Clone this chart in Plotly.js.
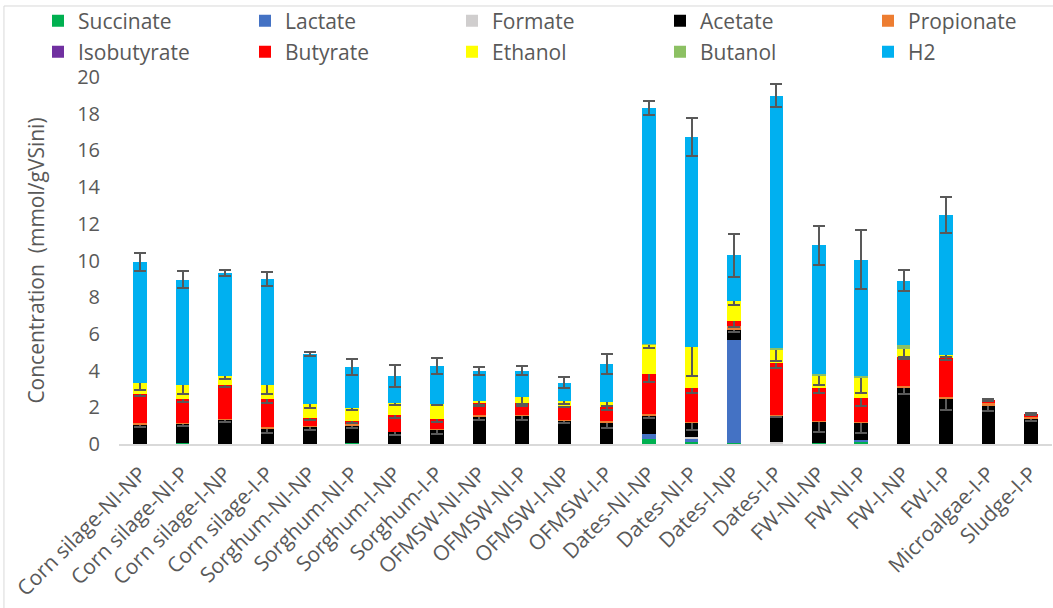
<!DOCTYPE html>
<html>
<head>
<meta charset="utf-8">
<script src="https://cdn.plot.ly/plotly-3.0.1.min.js"></script>
<style>
html,body{margin:0;padding:0;background:#fff;}
#chart{width:1053px;height:608px;}
</style>
</head>
<body>
<div id="chart"></div>
<script>
const categories = ["Corn silage-NI-NP","Corn silage-NI-P","Corn silage-I-NP","Corn silage-I-P",
  "Sorghum-NI-NP","Sorghum-NI-P","Sorghum-I-NP","Sorghum-I-P",
  "OFMSW-NI-NP","OFMSW-NI-P","OFMSW-I-NP","OFMSW-I-P",
  "Dates-NI-NP","Dates-NI-P","Dates-I-NP","Dates-I-P",
  "FW-NI-NP","FW-NI-P","FW-I-NP","FW-I-P","Microalgae-I-P","Sludge-I-P"];

const succinate   = [0,0.03,0,0, 0,0.07,0,0, 0,0,0,0, 0.26,0.10,0.03,0, 0.07,0.13,0,0, 0,0];
const lactate     = [0,0,0,0, 0,0,0,0, 0,0,0,0, 0.27,0.16,5.65,0, 0,0.09,0,0, 0,0];
const formate     = [0,0,0,0, 0,0,0,0, 0,0,0,0, 0,0.14,0,0.13, 0,0,0,0, 0,0];
const acetate     = [1.04,1.08,1.32,0.82, 0.93,0.91,0.64,0.77, 1.49,1.53,1.26,1.17, 1.00,0.77,0.55,1.40, 1.15,0.95,3.04,2.44, 2.05,1.35];
const propionate  = [0.13,0.06,0.05,0.09, 0.05,0.12,0.03,0.05, 0.09,0.05,0.03,0.09, 0.09,0.05,0.18,0.05, 0.05,0.05,0.13,0.11, 0.18,0.11];
const isobutyrate = [0,0,0,0, 0,0,0,0, 0,0,0,0, 0,0,0,0, 0,0,0,0, 0,0];
const butyrate    = [1.56,1.27,1.85,1.55, 0.42,0.17,0.91,0.55, 0.64,0.64,0.80,0.73, 2.21,1.85,0.27,2.86, 1.77,1.31,1.57,2.13, 0.17,0.16];
const ethanol     = [0.59,0.75,0.51,0.73, 0.79,0.69,0.64,0.82, 0.13,0.33,0.28,0.31, 1.56,2.24,1.13,0.66, 0.64,1.06,0.43,0.15, 0,0];
const butanol     = [0,0,0,0, 0,0,0,0, 0,0,0,0, 0.08,0,0,0.13, 0.15,0.14,0.20,0.03, 0,0];
const h2          = [6.61,5.77,5.60,5.81, 2.71,2.23,1.51,2.07, 1.64,1.45,0.98,2.05, 12.82,11.42,2.48,13.75, 6.99,6.32,3.53,7.63, 0,0];

const acetateErr  = [0.14,0.13,0.14,0.22, 0.19,0.12,0.14,0.25, 0.20,0.20,0.10,0.29, 0.10,0.43,0.10,0.07, 0.57,0.55,0.30,0.57, 0.25,0.10];
const butyrateErr = [0.14,0.16,0.12,0.22, 0.07,0.10,0.14,0.18, 0.16,0.15,0.10,0.15, 0.43,0.30,0.31,0.30, 0.25,0.45,0.10,0.10, 0.05,0.05];
const ethanolErr  = [0.35,0.45,0.20,0.47, 0.23,0.10,0.10,0.08, 0.23,0.35,0.18,0.23, 0.18,1.60,0.25,0.55, 0.47,0.80,0.45,0.10, null,null];
const h2Err       = [0.50,0.47,0.15,0.40, 0.12,0.43,0.60,0.45, 0.22,0.25,0.32,0.53, 0.38,1.03,1.17,0.64, 1.05,1.60,0.57,0.97, null,null];

const seriesNames  = ["Succinate","Lactate","Formate","Acetate","Propionate","Isobutyrate","Butyrate","Ethanol","Butanol","H2"];
const seriesValues = [succinate,lactate,formate,acetate,propionate,isobutyrate,butyrate,ethanol,butanol,h2];
const seriesColors = ["#00B050","#4472C4","#D0CECE","#000000","#ED7D31","#7030A0","#FF0000","#FFFF00","#8CC063","#00B0F0"];
const seriesErrors = {Acetate: acetateErr, Butyrate: butyrateErr, Ethanol: ethanolErr, H2: h2Err};

// plot area in pixels (used to place the legend grid: 5 columns x 2 rows above the plot)
const plotL = 119, plotR = 1052, plotT = 77, plotB = 444;
const legendColLeft = [38, 245, 452, 660, 868];
const legendRowMid = [21, 52];

const traces = seriesNames.map((name, i) => {
  const t = {
    type: 'bar',
    name: name,
    x: categories,
    y: seriesValues[i],
    marker: {color: seriesColors[i], line: {width: 0}},
    hoverinfo: 'name+y',
    legend: i === 0 ? 'legend' : 'legend' + (i + 1)
  };
  if (seriesErrors[name]) {
    t.error_y = {type: 'data', array: seriesErrors[name], visible: true,
                 color: '#595959', thickness: 2, width: 6};
  }
  return t;
});

const layout = {
  width: 1053, height: 608,
  paper_bgcolor: '#ffffff', plot_bgcolor: '#ffffff',
  barmode: 'stack',
  bargap: 0.68,
  font: {family: '"Open Sans", "DejaVu Sans", sans-serif', color: '#595959'},
  margin: {l: plotL, r: 1053 - plotR, t: plotT, b: 608 - plotB, autoexpand: false},
  showlegend: true,
  xaxis: {
    type: 'category',
    tickangle: -45,
    tickfont: {size: 21, color: '#595959'},
    ticklabelstandoff: 8,
    showline: true, linecolor: '#D9D9D9', linewidth: 1.5,
    showgrid: false, ticks: '', zeroline: false
  },
  yaxis: {
    range: [0, 20], dtick: 2,
    tickfont: {size: 20, color: '#595959'},
    showgrid: false, zeroline: false, showline: false, ticks: '',
    ticklabelstandoff: 18,
    title: {text: 'Concentration  (mmol/gVSini)', font: {size: 21, color: '#595959'}, standoff: 26}
  },
  shapes: [
    {type: 'line', xref: 'paper', yref: 'paper', x0: -0.1233, x1: -0.1233, y0: -0.46, y1: 1.1935,
     line: {color: '#D9D9D9', width: 1}},
    {type: 'line', xref: 'paper', yref: 'paper', x0: -0.1233, x1: 1.01, y0: 1.1935, y1: 1.1935,
     line: {color: '#D9D9D9', width: 1}}
  ]
};

seriesNames.forEach((name, i) => {
  const key = i === 0 ? 'legend' : 'legend' + (i + 1);
  const col = i % 5, row = Math.floor(i / 5);
  layout[key] = {
    orientation: 'h', xanchor: 'left', yanchor: 'middle',
    x: (legendColLeft[col] - plotL) / (plotR - plotL),
    y: (plotB - legendRowMid[row]) / (plotB - plotT),
    font: {size: 21, color: '#595959'},
    bgcolor: 'rgba(0,0,0,0)', itemwidth: 30
  };
});

Plotly.newPlot('chart', traces, layout, {displayModeBar: false, staticPlot: true});
</script>
</body>
</html>
